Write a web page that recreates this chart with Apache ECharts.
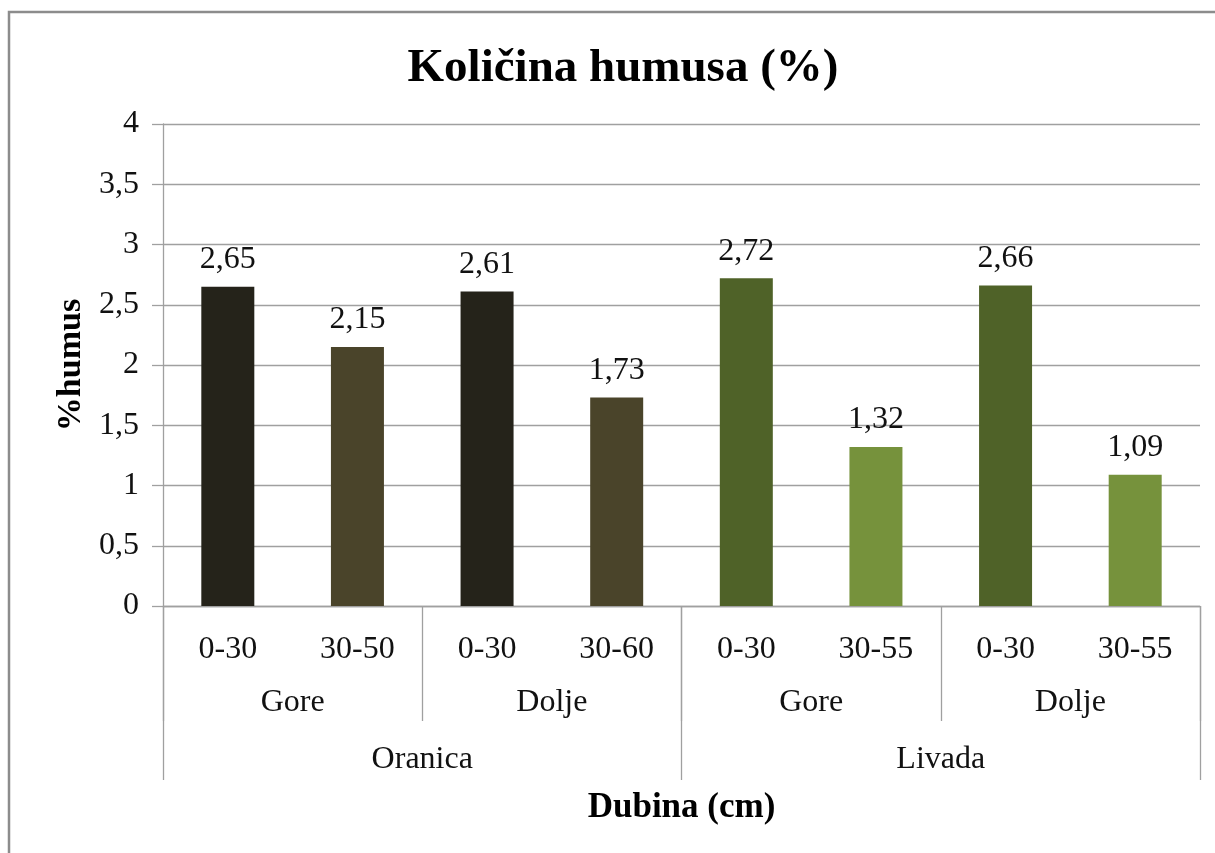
<html>
<head>
  <meta charset="utf-8">
  <script src="https://cdnjs.cloudflare.com/ajax/libs/echarts/6.0.0/echarts.min.js"></script>
  <title>Količina humusa</title>
</head>
<body style="margin: 0; overflow: hidden;">
  <div id="main" style="width: 1215px; height: 853px;"></div>
  <script>
    // chart data
    var depths = ['0-30', '30-50', '0-30', '30-60', '0-30', '30-55', '0-30', '30-55'];
    var sides = ['Gore', 'Dolje', 'Gore', 'Dolje'];
    var landUse = ['Oranica', 'Livada'];
    var humus = [2.65, 2.15, 2.61, 1.73, 2.72, 1.32, 2.66, 1.09];

    var colors = ['#25231a', '#4a442a', '#25231a', '#4a442a', '#4f6228', '#76923c', '#4f6228', '#76923c'];
    var font = 'Liberation Serif';
    var gray = '#a0a0a0';

    var chart = echarts.init(document.getElementById('main'));

    function comma(v) {
      return String(v).replace('.', ',');
    }

    var option = {
      animation: false,
      backgroundColor: '#fff',
      textStyle: { fontFamily: font },
      title: {
        text: 'Količina humusa (%)',
        left: 618,
        textAlign: 'center',
        top: 40,
        textStyle: { fontFamily: font, fontSize: 47, fontWeight: 'bold', color: '#000' }
      },
      graphic: [{
        type: 'rect',
        shape: { x: 9, y: 12, width: 1400, height: 1000 },
        style: { fill: null, stroke: '#8c8c8c', lineWidth: 2.5 },
        silent: true
      }],
      grid: { left: 163, right: 15, top: 124, bottom: 247 },
      xAxis: [{
        type: 'category',
        data: depths,
        axisLine: { lineStyle: { color: gray, width: 1.3 } },
        axisTick: { show: false },
        axisLabel: { interval: 0, margin: 28, fontSize: 32, color: '#111', fontFamily: font }
      }, {
        type: 'category',
        data: sides,
        position: 'bottom',
        axisLine: { show: false },
        axisTick: { show: true, interval: 0, length: 115, lineStyle: { color: gray, width: 1.3 } },
        axisLabel: { interval: 0, margin: 81, fontSize: 32, color: '#111', fontFamily: font }
      }, {
        type: 'category',
        data: landUse,
        position: 'bottom',
        axisLine: { show: false },
        axisTick: { show: true, interval: 0, length: 174, lineStyle: { color: gray, width: 1.3 } },
        axisLabel: { interval: 0, margin: 138, fontSize: 32, color: '#111', fontFamily: font },
        name: 'Dubina (cm)',
        nameLocation: 'middle',
        nameGap: 184,
        nameTextStyle: { fontFamily: font, fontSize: 35, fontWeight: 'bold', color: '#000' }
      }],
      yAxis: {
        type: 'value',
        min: 0,
        max: 4,
        interval: 0.5,
        name: '%humus',
        nameLocation: 'middle',
        nameGap: 69,
        nameTextStyle: { fontFamily: font, fontSize: 34, fontWeight: 'bold', color: '#000' },
        axisLine: { show: true, lineStyle: { color: gray, width: 1.3 } },
        axisTick: { show: true, length: 11, lineStyle: { color: gray, width: 1.3 } },
        splitLine: { lineStyle: { color: gray, width: 1.3 } },
        axisLabel: {
          margin: 24,
          fontSize: 32,
          color: '#111',
          fontFamily: font,
          formatter: function (v) { return comma(v); }
        }
      },
      series: [{
        type: 'bar',
        xAxisIndex: 0,
        barWidth: 53,
        data: humus.map(function (v, i) {
          return { value: v, itemStyle: { color: colors[i] } };
        }),
        label: {
          show: true,
          position: 'top',
          distance: 11,
          fontSize: 32,
          fontFamily: font,
          color: '#111',
          formatter: function (p) { return comma(p.value); }
        }
      }]
    };

    chart.setOption(option);
  </script>
</body>
</html>
